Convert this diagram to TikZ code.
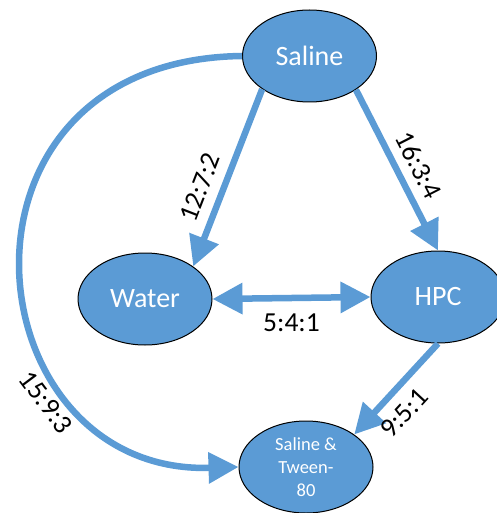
\documentclass[tikz,border=0pt]{standalone}
\usepackage{fontspec}
\setmainfont{Carlito}
\usetikzlibrary{shapes.geometric,arrows.meta}
\definecolor{flowblue}{HTML}{5B9BD5}
\tikzset{
	blob/.style={ellipse, draw=black, line width=1pt, fill=flowblue, text=white,
		minimum width=134pt, minimum height=92pt, inner sep=0pt,
		font=\fontsize{28}{33}\selectfont},
	flow/.style={draw=flowblue, line width=6.5pt, -{Triangle[length=30pt,width=30pt]}},
	ratio/.style={font=\fontsize{27.5}{32}\selectfont, text=black, inner sep=2pt}
}
\begin{document}
\begin{tikzpicture}[x=1pt,y=-1pt]
	\useasboundingbox (0,0) rectangle (496,513);
	\node[blob] (saline) at (309.5,56) {Saline};
	\node[blob] (water) at (145,299) {Water};
	\node[blob] (hpc) at (438,297) {HPC};
	\node[blob, align=center, font=\fontsize{18.5}{22.7}\selectfont] (tween) at (306,467) {Saline \&\\Tween-\\80};
	% arrows between the solutions
	\draw[flow] (saline.215) -- node[ratio, sloped, above=8pt, pos=0.6] (r1) {12:7:2} (water.34);
	\draw[flow] (saline.-36) -- node[ratio, sloped, above=7pt, pos=0.53] (r2) {16:3:4} (hpc.north);
	\draw[flow, {Triangle[length=30pt,width=30pt]}-{Triangle[length=30pt,width=30pt]}] (water.east) -- node[ratio, below=11pt, pos=0.5] (r3) {5:4:1} (hpc.west);
	\draw[flow] (hpc.south) -- node[ratio, sloped, below=8pt, pos=0.6] (r4) {9:5:1} (tween.34);
	\draw[flow] (saline.west) .. controls (-70,60) and (-30,475) .. node[ratio, sloped, below=10pt, pos=0.71] (r5) {15:9:3} (tween.west);
\end{tikzpicture}
\end{document}
